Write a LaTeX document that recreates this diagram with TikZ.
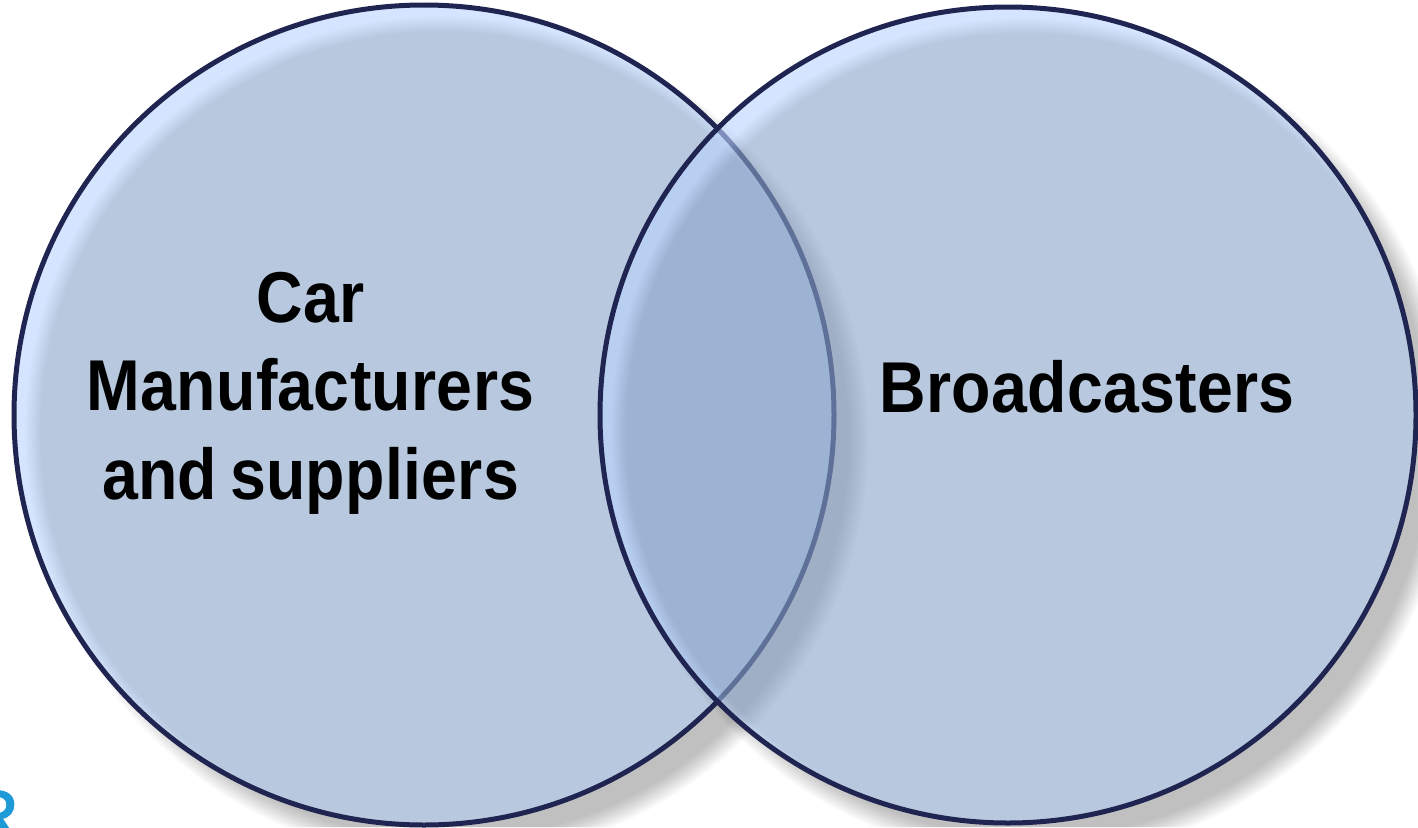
\documentclass[tikz,border=0pt]{standalone}
\usepackage{fontspec}
\setmainfont[FakeStretch=0.895,LetterSpace=0.4,WordSpace=0.7]{Liberation Sans Bold}
\newfontfamily\logofont[FakeBold=2]{Liberation Sans}
\definecolor{ringline}{HTML}{1F2550}
\definecolor{fillbase}{HTML}{8AA5CB}
\definecolor{fillhigh}{HTML}{BAD4FF}
\definecolor{logoblue}{HTML}{1E9BD7}
\pgfdeclareradialshading{venngloss}{\pgfpoint{1.94bp}{-1.94bp}}{%
  color(0bp)=(fillbase); color(24.4bp)=(fillbase); color(25.35bp)=(fillhigh); color(50bp)=(fillhigh)}
\tikzset{
  ringfill/.style={shade,shading=venngloss,opacity=.6},
  ringedge/.style={draw=ringline,line width=5pt},
  vennlabel/.style={font=\fontsize{72}{88.5}\selectfont,text=black,align=center,inner sep=0pt,anchor=base}
}
\newcommand{\softshadow}[3]{% centre x, y, radius
  \begin{scope}[even odd rule]
    \clip (0,0) rectangle (1418,827) (#1,#2) circle (#3pt);
    \foreach \d in {-10,-8,...,10}
      \fill[black,opacity=.0223] (#1+25,#2+25) circle ({#3pt+\d*1pt});
  \end{scope}}
\begin{document}
\begin{tikzpicture}[x=1pt,y=-1pt]
  \useasboundingbox (0,0) rectangle (1418,827);
  \fill[white] (0,0) rectangle (1418,827);
  \clip (0,0) rectangle (1418,827);
  \node[text=logoblue,font=\logofont\fontsize{70}{70}\selectfont,inner sep=0pt,anchor=base east] (logo) at (19,839) {R};
  \softshadow{424}{415}{410}
  \path[ringfill] (424,415) circle (410pt);
  \draw[ringedge] (424,415) circle (410pt);
  \softshadow{1008}{415}{408}
  \path[ringfill] (1008,415) circle (408pt);
  \draw[ringedge] (1008,415) circle (408pt);
  \node[vennlabel] (left) at (310.5,499) {Car\\Manufacturers\\and suppliers};
  \node[vennlabel] (right) at (1087,412) {Broadcasters};
\end{tikzpicture}
\end{document}
